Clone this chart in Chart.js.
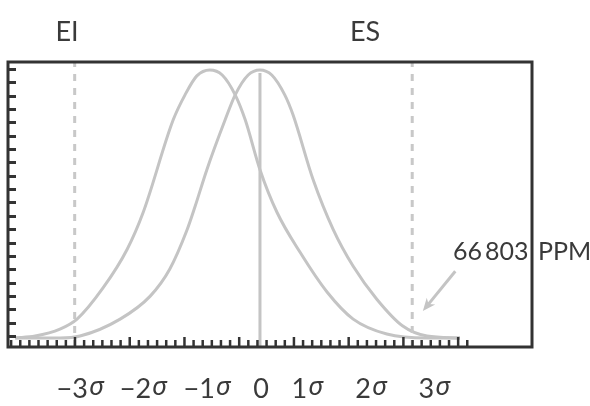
<!DOCTYPE html>
<html>
<head>
<meta charset="utf-8">
<script src="https://cdn.jsdelivr.net/npm/chart.js@4.4.1/dist/chart.umd.min.js"></script>
<style>
  html, body { margin: 0; background: #fff; }
  #wrap { width: 590px; height: 406px; }
</style>
</head>
<body>
<div id="wrap"><canvas id="chart"></canvas></div>
<script>
// x in sigma units (0 = nominal), y in "tick" units of the left axis
const centreX = [-4.15, -3.81, -3.39, -3.05, -2.37, -1.86, -1.53, -1.24, -1.10, -0.90, -0.59, -0.42, -0.20, 0, 0.20, 0.42, 0.56, 0.90, 1.24, 1.58, 1.98, 2.42, 2.83, 3.39];
const centreY = [0.85, 0.85, 0.85, 1.0, 2.27, 3.99, 6.0, 8.9, 10.7, 13.46, 17.19, 19.06, 20.55, 20.93, 20.55, 19.06, 17.57, 12.72, 8.99, 6.22, 3.76, 1.75, 1.0, 0.85];

const shiftedX = [-4.15, -3.81, -3.39, -3.10, -2.66, -2.25, -1.98, -1.47, -1.27, -1.07, -0.85, -0.64, -0.42, -0.25, 0, 0.29, 0.68, 1.14, 1.58, 2.15, 2.83, 3.39];
const shiftedY = [0.85, 1.0, 1.52, 2.27, 4.6, 7.5, 10.25, 17.19, 19.06, 20.48, 20.93, 20.55, 19.06, 17.19, 13.46, 10.25, 7.27, 4.28, 2.27, 1.15, 0.85, 0.85];

const limitNames = ['EI', 'ES'];
const limitX = [-3.14, 2.58];
const limitNameX = [-3.27, 1.78];

const sigmaNums = ['−3', '−2', '−1', '0', '1', '2', '3'];
const sigmaPos = [-3.05, -1.98, -0.90, 0.02, 0.80, 1.88, 2.95];

const ppmParts = ['66\u2009803', 'PPM'];
const ppmX = [3.27, 4.71];
const ppmY = 7.27;
const arrowFrom = [3.31, 5.85];
const arrowTo = [2.76, 2.87];

const xRange = [-4.27, 4.61];
const yRange = [0.18, 21.52];
const yTicks = [1, 2, 3, 4, 5, 6, 7, 8, 9, 10, 11, 12, 13, 14, 15, 16, 17, 18, 19, 20, 21];
const xMinorStart = -4.217, xMinorStep = 0.1546, xMinorCount = 51;
const xMajorFirst = 7, xMajorEvery = 6;

const CURVE = '#c4c4c4';
const INK = '#333333';
const FONT = '27px Lato, "Open Sans", sans-serif';
const PPM_FONT = '25px Lato, "Open Sans", sans-serif';
const SIGMA_FONT = 'italic 26px "Noto Sans", sans-serif';

function pts(xs, ys) {
  return xs.map((x, i) => ({ x: x, y: ys[i] }));
}

const decorPlugin = {
  id: 'decor',
  afterDraw(chart) {
    const ctx = chart.ctx;
    const a = chart.chartArea;
    const xs = chart.scales.x, ys = chart.scales.y;
    ctx.save();

    // inward ticks on left axis
    ctx.strokeStyle = INK;
    ctx.lineWidth = 3;
    yTicks.forEach(t => {
      const py = Math.round(ys.getPixelForValue(t)) + 0.5;
      ctx.beginPath();
      ctx.moveTo(a.left, py);
      ctx.lineTo(a.left + 8, py);
      ctx.stroke();
    });

    // inward ticks on bottom axis
    ctx.lineWidth = 2.5;
    for (let k = 0; k < xMinorCount; k++) {
      const px = xs.getPixelForValue(xMinorStart + k * xMinorStep);
      const major = k >= xMajorFirst && (k - xMajorFirst) % xMajorEvery === 0;
      ctx.beginPath();
      ctx.moveTo(px, a.bottom);
      ctx.lineTo(px, a.bottom - (major ? 10 : 7));
      ctx.stroke();
    }

    // frame
    ctx.lineWidth = 3;
    ctx.strokeRect(a.left, a.top, a.right - a.left, a.bottom - a.top);

    // limit names
    ctx.fillStyle = '#3a3a3a';
    ctx.font = FONT;
    ctx.textAlign = 'center';
    ctx.textBaseline = 'middle';
    limitNames.forEach((n, i) => {
      ctx.fillText(n, xs.getPixelForValue(limitNameX[i]), a.top - 30);
    });

    // sigma labels
    const ly = a.bottom + 42;
    sigmaNums.forEach((n, i) => {
      const cx = xs.getPixelForValue(sigmaPos[i]);
      const hasSigma = n !== '0';
      ctx.font = FONT;
      const w1 = ctx.measureText(n).width + (hasSigma ? 1 : 0);
      ctx.font = SIGMA_FONT;
      const w2 = hasSigma ? ctx.measureText('σ').width : 0;
      const x0 = cx - (w1 + w2) / 2;
      ctx.textAlign = 'left';
      ctx.font = FONT;
      ctx.fillText(n, x0, ly);
      if (hasSigma) {
        ctx.font = SIGMA_FONT;
        ctx.fillText('σ', x0 + w1, ly - 1);
      }
    });

    // ppm note
    ctx.font = PPM_FONT;
    ctx.textAlign = 'left';
    ppmParts.forEach((p, i) => {
      ctx.fillText(p, xs.getPixelForValue(ppmX[i]), ys.getPixelForValue(ppmY));
    });

    // arrow
    const x1 = xs.getPixelForValue(arrowFrom[0]), y1 = ys.getPixelForValue(arrowFrom[1]);
    const x2 = xs.getPixelForValue(arrowTo[0]), y2 = ys.getPixelForValue(arrowTo[1]);
    const ang = Math.atan2(y2 - y1, x2 - x1);
    ctx.strokeStyle = CURVE;
    ctx.fillStyle = CURVE;
    ctx.lineWidth = 3;
    ctx.beginPath();
    ctx.moveTo(x1, y1);
    ctx.lineTo(x2 - 8 * Math.cos(ang), y2 - 8 * Math.sin(ang));
    ctx.stroke();
    ctx.beginPath();
    ctx.moveTo(x2, y2);
    ctx.lineTo(x2 - 14 * Math.cos(ang - 0.4), y2 - 14 * Math.sin(ang - 0.4));
    ctx.lineTo(x2 - 9 * Math.cos(ang), y2 - 9 * Math.sin(ang));
    ctx.lineTo(x2 - 14 * Math.cos(ang + 0.4), y2 - 14 * Math.sin(ang + 0.4));
    ctx.closePath();
    ctx.fill();

    ctx.restore();
  }
};

const lineStyle = {
  borderColor: CURVE,
  borderWidth: 3,
  pointRadius: 0,
  fill: false
};

new Chart(document.getElementById('chart'), {
  type: 'line',
  data: {
    datasets: [
      { data: pts([limitX[0], limitX[0]], yRange), borderDash: [7, 7], borderColor: '#c8c8c8', borderWidth: 3, pointRadius: 0 },
      { data: pts([limitX[1], limitX[1]], yRange), borderDash: [7, 7], borderColor: '#c8c8c8', borderWidth: 3, pointRadius: 0 },
      Object.assign({ data: pts([0, 0], [yRange[0], 20.7]) }, lineStyle),
      Object.assign({ data: pts(shiftedX, shiftedY), cubicInterpolationMode: 'monotone' }, lineStyle),
      Object.assign({ data: pts(centreX, centreY), cubicInterpolationMode: 'monotone' }, lineStyle)
    ]
  },
  options: {
    responsive: true,
    maintainAspectRatio: false,
    animation: false,
    layout: { padding: { left: 8, top: 62, right: 58, bottom: 59 } },
    plugins: { legend: { display: false }, tooltip: { enabled: false } },
    scales: {
      x: { type: 'linear', display: false, min: xRange[0], max: xRange[1] },
      y: { type: 'linear', display: false, min: yRange[0], max: yRange[1] }
    }
  },
  plugins: [decorPlugin]
});
</script>
</body>
</html>
